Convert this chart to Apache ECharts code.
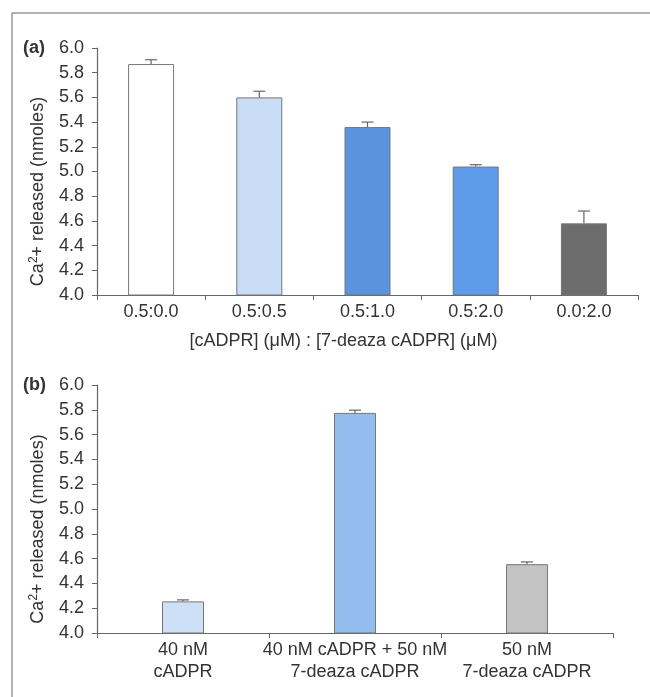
<!DOCTYPE html>
<html>
<head>
<meta charset="utf-8">
<script src="https://cdn.jsdelivr.net/npm/echarts@6/dist/echarts.min.js"></script>
<style>
  html, body { margin: 0; padding: 0; background: #fff; }
  #main { width: 650px; height: 697px; }
</style>
</head>
<body>
<div id="main"></div>
<script>
// panel (a)
const catsA = ['0.5:0.0', '0.5:0.5', '0.5:1.0', '0.5:2.0', '0.0:2.0'];
const meanA = [5.87, 5.60, 5.36, 5.04, 4.58];
const errA = [0.035, 0.05, 0.04, 0.015, 0.1];
const colorsA = ['#ffffff', '#c9def6', '#5b93dc', '#5e9be8', '#6d6d6d'];

// panel (b)
const catsB = ['40 nM\ncADPR', '40 nM cADPR + 50 nM\n7-deaza cADPR', '50 nM\n7-deaza cADPR'];
const meanB = [4.255, 5.775, 4.555];
const errB = [0.012, 0.022, 0.018];
const colorsB = ['#cde0f7', '#93bdee', '#c3c3c3'];

const yTicks = ['4.0', '4.2', '4.4', '4.6', '4.8', '5.0', '5.2', '5.4', '5.6', '5.8', '6.0'];

const chart = echarts.init(document.getElementById('main'));
const font = 'Liberation Sans, Arial, sans-serif';
const axisCol = '#666';

function yAxisCfg(gi) {
  return {
    type: 'value', gridIndex: gi, min: 4, max: 6, interval: 0.2,
    axisLine: { show: true, lineStyle: { color: axisCol, width: 1.2 } },
    axisTick: { show: true, length: 5, lineStyle: { color: axisCol } },
    splitLine: { show: false },
    axisLabel: {
      fontFamily: font, fontSize: 18, color: '#333', margin: 13,
      formatter: v => yTicks[Math.round((v - 4) / 0.2)]
    },
    name: '{n|Ca}{s|2}{n|+ released (nmoles)}',
    nameLocation: 'middle', nameGap: 49,
    nameTextStyle: {
      fontFamily: font, color: '#333', padding: [0, 40, 0, 0],
      rich: {
        n: { fontSize: 18, fontFamily: font, color: '#333', lineHeight: 20 },
        s: { fontSize: 12, fontFamily: font, color: '#333', lineHeight: 20, verticalAlign: 'top', padding: [0, 0, 8, 0] }
      }
    }
  };
}

function xAxisCfg(gi, cats) {
  return {
    type: 'category', gridIndex: gi, data: cats,
    axisLine: { show: true, lineStyle: { color: axisCol, width: 1.2 } },
    axisTick: { show: true, length: 5, alignWithLabel: false, interval: 0, lineStyle: { color: axisCol } },
    axisLabel: { fontFamily: font, fontSize: 18, color: '#333', margin: 6, interval: 0, lineHeight: 22 }
  };
}

function barSeries(gi, means, colors, width) {
  return {
    type: 'bar', xAxisIndex: gi, yAxisIndex: gi, barWidth: width,
    data: means.map((v, i) => ({
      value: v,
      itemStyle: { color: colors[i], borderColor: '#777', borderWidth: 1 }
    }))
  };
}

function errSeries(gi, means, errs) {
  return {
    type: 'custom', xAxisIndex: gi, yAxisIndex: gi, z: 5,
    data: means.map((v, i) => [i, v, errs[i]]),
    renderItem: function (params, api) {
      const base = api.coord([api.value(0), api.value(1)]);
      const top = api.coord([api.value(0), api.value(1) + api.value(2)]);
      const st = { stroke: '#666', lineWidth: 1.2 };
      return {
        type: 'group',
        children: [
          { type: 'line', shape: { x1: base[0], y1: base[1], x2: top[0], y2: top[1] }, style: st },
          { type: 'line', shape: { x1: top[0] - 6, y1: top[1], x2: top[0] + 6, y2: top[1] }, style: st }
        ]
      };
    }
  };
}

const xa = xAxisCfg(0, catsA);
xa.name = '[cADPR] (\u03bcM) : [7-deaza cADPR] (\u03bcM)';
xa.nameLocation = 'middle';
xa.nameGap = 37;
xa.nameTextStyle = { fontFamily: font, fontSize: 18, color: '#333', padding: [0, 48, 0, 0] };

chart.setOption({
  animation: false,
  backgroundColor: '#fff',
  grid: [
    { left: 97, top: 48, width: 541, height: 247 },
    { left: 97, top: 385, width: 516, height: 248 }
  ],
  xAxis: [xa, xAxisCfg(1, catsB)],
  yAxis: [yAxisCfg(0), yAxisCfg(1)],
  series: [
    barSeries(0, meanA, colorsA, 46),
    errSeries(0, meanA, errA),
    barSeries(1, meanB, colorsB, 42),
    errSeries(1, meanB, errB)
  ],
  graphic: [
    { type: 'line', shape: { x1: 12, y1: 13, x2: 650, y2: 13 }, style: { stroke: '#999', lineWidth: 1.5 } },
    { type: 'line', shape: { x1: 12, y1: 13, x2: 12, y2: 697 }, style: { stroke: '#999', lineWidth: 1.5 } },
    { type: 'text', left: 23, top: 39, style: { text: '(a)', font: 'bold 18px ' + font, fill: '#333' } },
    { type: 'text', left: 23, top: 376, style: { text: '(b)', font: 'bold 18px ' + font, fill: '#333' } }
  ]
});
window.addEventListener('resize', function () { chart.resize(); });
</script>
</body>
</html>
